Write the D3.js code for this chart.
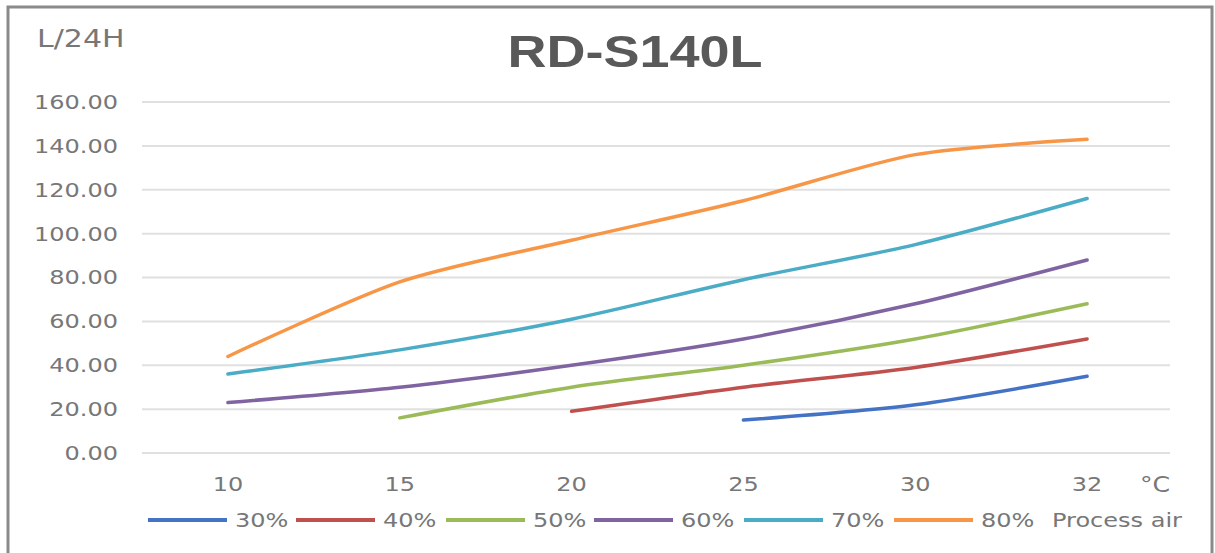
<!DOCTYPE html>
<html>
<head>
<meta charset="utf-8">
<script src="https://cdn.jsdelivr.net/npm/d3@7"></script>
<style>
  body { margin: 0; background: #fff; }
  svg { display: block; }
</style>
</head>
<body>
<div id="chart"></div>
<script>
// temperatures (°C) on the x axis
const temps = ["10", "15", "20", "25", "30", "32"];
// relative humidity series
const seriesNames = ["30%", "40%", "50%", "60%", "70%", "80%"];
const rh30 = [null, null, null, 15, 22, 35];
const rh40 = [null, null, 19, 30, 39, 52];
const rh50 = [null, 16, 30, 40, 52, 68];
const rh60 = [23, 30, 40, 52, 68, 88];
const rh70 = [36, 47, 61, 79, 95, 116];
const rh80 = [44, 78, 97, 115, 136, 143];
const yTicks = [0, 20, 40, 60, 80, 100, 120, 140, 160];
const colors = ["#4472C4", "#C0504D", "#9BBB59", "#8064A2", "#4BACC6", "#F79646"];

const width = 1215, height = 553;
const margin = { top: 102, right: 42, bottom: 100, left: 142 };
const font = "DejaVu Sans, Verdana, sans-serif";
const stretch = 1.2; // le texte de l'original est étiré en largeur

const svg = d3.select("#chart").append("svg")
    .attr("width", width)
    .attr("height", height);

// cadre
svg.append("rect")
    .attr("x", 8).attr("y", 7)
    .attr("width", 1204).attr("height", 560)
    .attr("fill", "none")
    .attr("stroke", "#8a8a8a")
    .attr("stroke-width", 3);

const x = d3.scaleBand()
    .domain(temps)
    .range([margin.left, width - margin.right]);

const y = d3.scaleLinear()
    .domain([0, 160])
    .range([height - margin.bottom, margin.top]);

// grille horizontale
svg.append("g")
    .selectAll("line")
    .data(yTicks)
    .enter()
    .append("line")
    .attr("x1", margin.left)
    .attr("x2", width - margin.right - 3)
    .attr("y1", d => y(d))
    .attr("y2", d => y(d))
    .attr("stroke", "#e0e0e0")
    .attr("stroke-width", 2);

const yAxis = svg.append("g")
    .attr("transform", `translate(${margin.left - 24},0)`)
    .call(d3.axisLeft(y).tickValues(yTicks).tickFormat(d3.format(".2f")).tickSize(0).tickPadding(0));
yAxis.select(".domain").remove();
yAxis.selectAll("text")
    .attr("fill", "#777")
    .style("font-family", font)
    .style("font-size", "20px");

const xAxis = svg.append("g")
    .attr("transform", `translate(0,${height - margin.bottom})`)
    .call(d3.axisBottom(x).tickSize(0).tickPadding(24));
xAxis.select(".domain").remove();
xAxis.selectAll("text")
    .attr("fill", "#777")
    .style("font-family", font)
    .style("font-size", "20px");

// lignes lissées
const allSeries = [rh30, rh40, rh50, rh60, rh70, rh80];
const line = d3.line()
    .x(d => x(d.t) + x.bandwidth() / 2)
    .y(d => y(d.v))
    .curve(d3.curveCardinal.tension(0.2));

allSeries.forEach((vals, i) => {
    const pts = temps.map((t, j) => ({ t: t, v: vals[j] })).filter(d => d.v !== null);
    svg.append("path")
        .datum(pts)
        .attr("d", line)
        .attr("fill", "none")
        .attr("stroke", colors[i])
        .attr("stroke-width", 3.5)
        .attr("stroke-linecap", "round");
});

// titre et unités
svg.append("text")
    .attr("x", 635)
    .attr("y", 67)
    .attr("text-anchor", "middle")
    .attr("fill", "#595959")
    .style("font-family", "Liberation Sans, Arial, sans-serif")
    .style("font-weight", "bold")
    .style("font-size", "45px")
    .text("RD-S140L");

svg.append("text")
    .attr("x", 37)
    .attr("y", 47)
    .attr("fill", "#777")
    .style("font-family", font)
    .style("font-size", "25px")
    .text("L/24H");

svg.append("text")
    .attr("x", 1140)
    .attr("y", 492)
    .attr("fill", "#777")
    .style("font-family", font)
    .style("font-size", "21px")
    .text("°C");

// légende
const legendX = [148, 296, 446, 594, 744, 894];
const legend = svg.append("g").attr("transform", "translate(0,520)");
seriesNames.forEach((name, i) => {
    legend.append("line")
        .attr("x1", legendX[i]).attr("x2", legendX[i] + 79)
        .attr("y1", 0).attr("y2", 0)
        .attr("stroke", colors[i])
        .attr("stroke-width", 4);
    legend.append("text")
        .attr("x", legendX[i] + 87)
        .attr("y", 7)
        .attr("fill", "#777")
        .style("font-family", font)
        .style("font-size", "20px")
        .text(name);
});
legend.append("text")
    .attr("x", 1052)
    .attr("y", 7)
    .attr("fill", "#777")
    .style("font-family", font)
    .style("font-size", "20px")
    .text("Process air");

// étirer tous les textes en largeur
svg.selectAll("text").each(function() {
    const len = this.getComputedTextLength();
    d3.select(this)
        .attr("textLength", len * stretch)
        .attr("lengthAdjust", "spacingAndGlyphs");
});
</script>
</body>
</html>
